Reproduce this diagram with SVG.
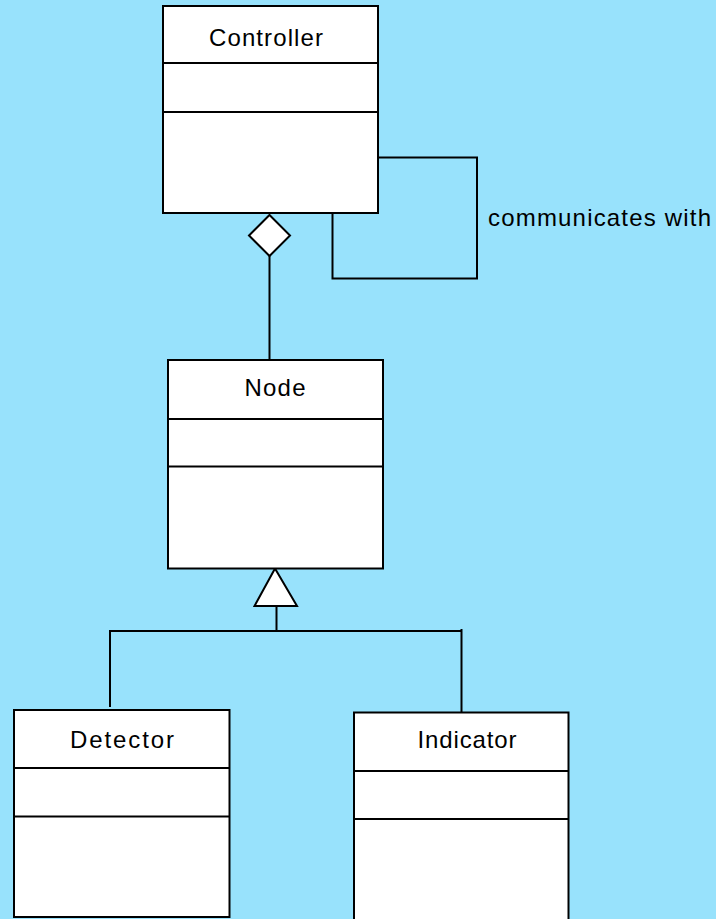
<svg xmlns="http://www.w3.org/2000/svg" width="716" height="919" viewBox="0 0 716 919">
  <style>
    .box { fill: #ffffff; stroke: #000000; stroke-width: 2; }
    .sep { stroke: #000000; stroke-width: 2; }
    .name { font-family: "Liberation Sans", Arial, sans-serif; font-size: 24px; fill: #000000; text-anchor: middle; }
    .label { font-family: "Liberation Sans", Arial, sans-serif; font-size: 24px; fill: #000000; }
    .wire { fill: none; stroke: #000000; stroke-width: 2; }
    .head { fill: #ffffff; stroke: #000000; stroke-width: 2; stroke-linejoin: miter; }
  </style>
  <rect x="0" y="0" width="716" height="919" fill="#98E2FC"/>

  <g id="connectors">
    <!-- self association on Controller -->
    <polyline class="wire" points="378,157.5 477,157.5 477,278.5 332.5,278.5 332.5,213"/>
    <text class="label" x="488" y="226" textLength="223" lengthAdjust="spacing">communicates with</text>
    <!-- aggregation Controller <> Node -->
    <line class="wire" x1="269.5" y1="256" x2="269.5" y2="360"/>
    <polygon class="head" points="269.5,215 290,235.5 269.5,256 249,235.5"/>
    <!-- generalization Detector/Indicator -> Node -->
    <polyline class="wire" points="110,707 110,631 461.5,631"/>
    <line class="wire" x1="461.5" y1="629" x2="461.5" y2="712"/>
    <line class="wire" x1="276.5" y1="606" x2="276.5" y2="631"/>
    <polygon class="head" points="275,568.5 297,606 254.5,606"/>
  </g>

  <g id="controller">
    <rect class="box" x="163" y="6" width="215" height="207"/>
    <line class="sep" x1="163" y1="63" x2="378" y2="63"/>
    <line class="sep" x1="163" y1="112" x2="378" y2="112"/>
    <text class="name" x="266" y="45.5" textLength="114" lengthAdjust="spacing">Controller</text>
  </g>

  <g id="node">
    <rect class="box" x="168" y="360" width="215" height="208.5"/>
    <line class="sep" x1="168" y1="419" x2="383" y2="419"/>
    <line class="sep" x1="168" y1="466.5" x2="383" y2="466.5"/>
    <text class="name" x="275" y="396" textLength="61" lengthAdjust="spacing">Node</text>
  </g>

  <g id="detector">
    <rect class="box" x="14" y="710" width="215.5" height="207"/>
    <line class="sep" x1="14" y1="768" x2="229.5" y2="768"/>
    <line class="sep" x1="14" y1="816.5" x2="229.5" y2="816.5"/>
    <text class="name" x="122" y="748" textLength="104" lengthAdjust="spacing">Detector</text>
  </g>

  <g id="indicator">
    <rect class="box" x="354" y="712.5" width="214.5" height="215"/>
    <line class="sep" x1="354" y1="771" x2="568.5" y2="771"/>
    <line class="sep" x1="354" y1="819" x2="568.5" y2="819"/>
    <text class="name" x="467" y="748" textLength="99" lengthAdjust="spacing">Indicator</text>
  </g>
</svg>
